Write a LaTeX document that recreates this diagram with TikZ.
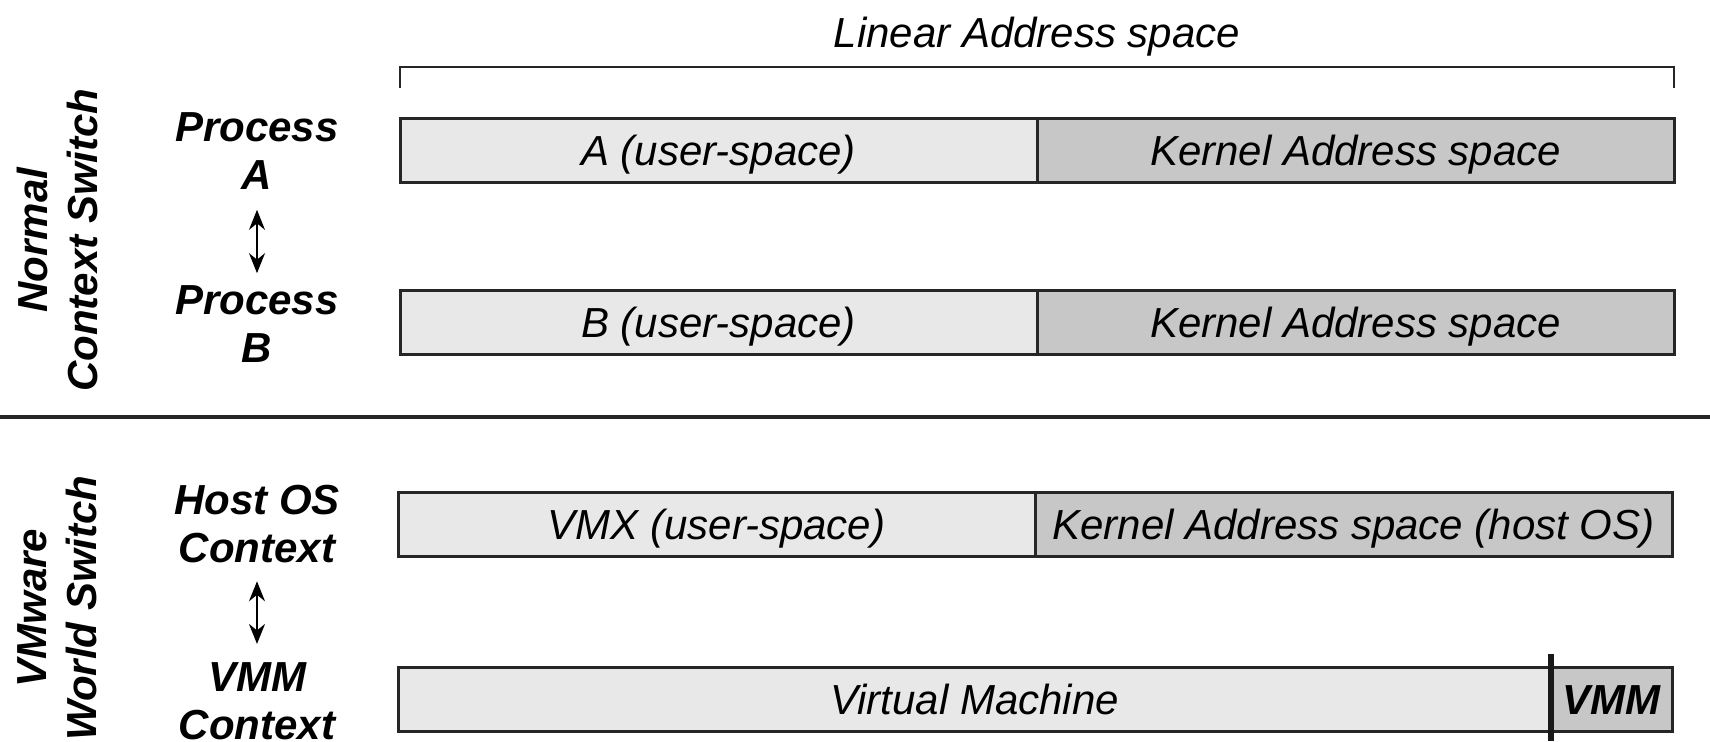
\documentclass[tikz,border=0pt]{standalone}
\usepackage{fontspec}
\setmainfont{Liberation Sans}
\usetikzlibrary{arrows.meta, positioning}

\begin{document}
\begin{tikzpicture}[x=0.5pt,y=-0.5pt]
    \tikzstyle{seg}  = [draw=black!85, line width=1.5pt, minimum height=32pt, inner sep=0pt, outer sep=0pt, anchor=west, text height=15pt, text depth=0pt, font=\fontsize{21}{24}\selectfont\itshape]
    \tikzstyle{user} = [seg, fill=black!9]
    \tikzstyle{kern} = [seg, fill=black!22]
    \tikzstyle{ctx}  = [align=center, inner sep=2pt, font=\fontsize{21}{24}\selectfont\bfseries\itshape]
    \tikzstyle{side} = [ctx, rotate=90, font=\fontsize{21}{25}\selectfont\bfseries\itshape]
    \tikzstyle{swap} = [{Stealth[length=10pt,width=8pt]}-{Stealth[length=10pt,width=8pt]}, line width=1pt]

    \useasboundingbox (0,0) rectangle (1710,741);

    % Linear address space .........................
    \node[text height=15pt, text depth=0pt, font=\fontsize{21}{24}\selectfont\itshape] (title) at (1037,32) {Linear Address space};
    \coordinate (brL) at (400,88);
    \coordinate (brR) at (1674,88);
    \draw[line width=1.4pt, black!85] (brL) -- ++(0,-21) -| (brR);

    % Normal context switch .........................
    \node[side] (normal) at (57,240) {Normal\\Context Switch};
    \node[ctx] (pa) at (257,151) {Process\\A};
    \node[ctx] (pb) at (257,324) {Process\\B};
    \draw[swap, shorten <=8pt, shorten >=4pt] (pa) -- (pb);

    \node[user, minimum width=318.5pt] (ua) at (400,150) {A (user-space)};
    \node[kern, minimum width=318.5pt] (ka) at (1037,150) {Kernel Address space};
    \node[user, minimum width=318.5pt] (ub) at (400,322) {B (user-space)};
    \node[kern, minimum width=318.5pt] (kb) at (1037,322) {Kernel Address space};

    \coordinate (ruleL) at (0,417);
    \coordinate (ruleR) at (1710,417);
    \draw[line width=1.8pt, black!85] (ruleL) -- (ruleR);

    % VMware world switch .........................
    \node[side] (vmware) at (57,608) {VMware\\World Switch};
    \node[ctx] (host) at (257,524) {Host OS\\Context};
    \node[ctx] (vmmctx) at (257,701) {VMM\\Context};
    \draw[swap, shorten <=7pt, shorten >=7pt] (host) -- (vmmctx);

    \node[user, minimum width=318.5pt] (vmx) at (398,524) {VMX (user-space)};
    \node[kern, minimum width=318.5pt] (khost) at (1035,524) {Kernel Address space (host OS)};
    \node[user, minimum width=576.5pt] (vm) at (398,699) {Virtual Machine};
    \node[kern, minimum width=60.5pt, font=\fontsize{21}{24}\selectfont\bfseries\itshape] (vmm) at (1551,699) {VMM};
    \draw[line width=3pt, black!90] ([yshift=6.5pt]vmm.north west) -- ([yshift=-5pt]vmm.south west);

\end{tikzpicture}
\end{document}
